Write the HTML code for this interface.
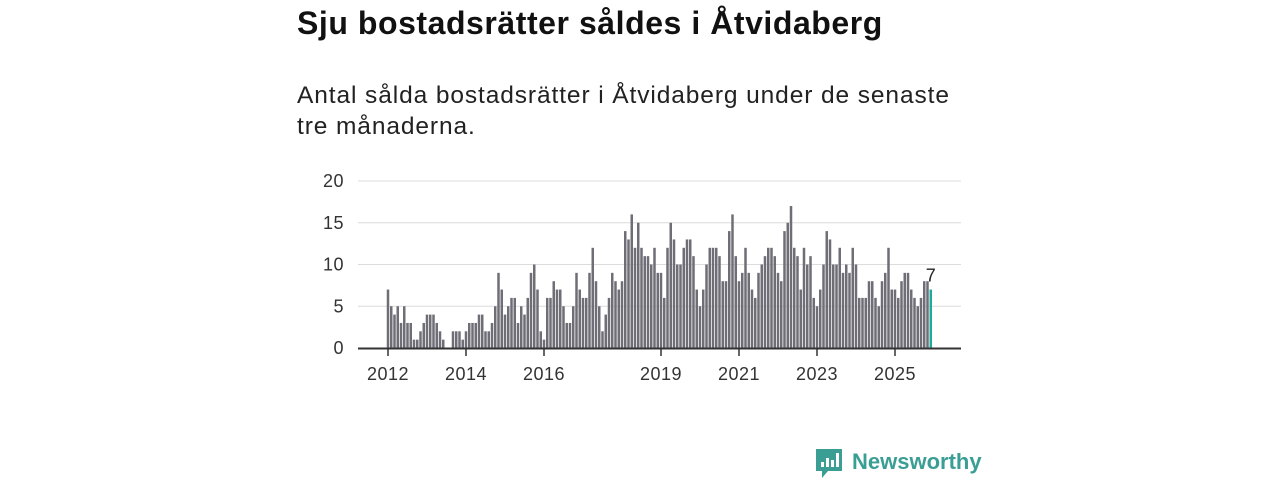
<!DOCTYPE html>
<html><head><meta charset="utf-8">
<style>
body{margin:0;width:1280px;height:480px;background:#fff;overflow:hidden;font-family:"Liberation Sans",sans-serif;}
#title{position:absolute;left:297px;top:5px;font-size:32px;font-weight:bold;color:#111;margin:0;letter-spacing:0.55px}
#sub{position:absolute;left:297px;top:80px;font-size:24.5px;line-height:31px;color:#222;width:680px;margin:0;letter-spacing:0.9px}
svg{position:absolute;left:0;top:0}
</style></head><body>
<h1 id="title">Sju bostadsrätter såldes i Åtvidaberg</h1>
<p id="sub">Antal sålda bostadsrätter i Åtvidaberg under de senaste tre månaderna.</p>
<svg id="chart" width="1280" height="480"></svg>
<script>
const values = [7,5,4,5,3,5,3,3,1,1,2,3,4,4,4,3,2,1,0,0,2,2,2,1,2,3,3,
3,4,4,2,2,3,5,9,7,4,5,6,6,3,5,4,6,9,10,7,2,1,6,6,8,7,7,5,
3,3,5,9,7,6,6,9,12,8,5,2,4,6,9,8,7,8,14,13,16,12,15,12,11,11,10,12,
9,9,6,12,15,13,10,10,12,13,13,11,7,5,7,10,12,12,12,11,8,8,14,16,11,8,9,12,
9,7,6,9,10,11,12,12,11,9,8,14,15,17,12,11,7,12,10,11,6,5,7,10,14,13,10,
10,12,9,10,9,12,10,6,6,6,8,8,6,5,8,9,12,7,7,6,8,9,9,7,6,5,6,8,8,7];
const startYear = 2012;
const yTicks = [0,5,10,15,20];
const xTickYears = [2012,2014,2016,2019,2021,2023,2025];
const NS="http://www.w3.org/2000/svg";
const svg=document.getElementById('chart');
const x0=388, step=3.25, yBase=348, yUnit=(348-181)/20;
function xPos(i){return x0+i*step;}
function yPos(v){return yBase-v*yUnit;}
function mk(t,a){const e=document.createElementNS(NS,t);for(const k in a)e.setAttribute(k,a[k]);svg.appendChild(e);return e;}
yTicks.forEach(t=>{
  if(t>0){const g=mk('line',{x1:358,x2:961,y1:yPos(t),y2:yPos(t),stroke:'#dcdcdc','stroke-width':1});
  
  }
  const l=mk('text',{x:344,y:yPos(t)+6,'text-anchor':'end','font-size':18,'letter-spacing':0.5,fill:'#333','font-family':'Liberation Sans, sans-serif'});
  l.textContent=t;
  
  
});
values.forEach((v,i)=>{
  const last=i===values.length-1;
  const r=mk('rect',{x:xPos(i)-1.25,y:yPos(v),width:2.5,height:v*yUnit,fill:last?'#1faa9c':'#6f6e76'});
  
  
});
const li=values.length-1;
const vl=mk('text',{x:xPos(li),y:yPos(values[li])-8,'text-anchor':'middle','font-size':18,fill:'#222','font-family':'Liberation Sans, sans-serif'});
vl.textContent=values[li];


const ax=mk('line',{x1:358,x2:961,y1:yBase+0.5,y2:yBase+0.5,stroke:'#333','stroke-width':2});


xTickYears.forEach(y=>{
  const xi=xPos((y-startYear)*12);
  const t=mk('line',{x1:xi,x2:xi,y1:yBase,y2:yBase+8,stroke:'#333','stroke-width':1.5});
  
  
  const l=mk('text',{x:xi,y:380,'text-anchor':'middle','font-size':18,'letter-spacing':0.5,fill:'#333','font-family':'Liberation Sans, sans-serif'});
  l.textContent=y;
  
  
});
</script>
<svg width="1280" height="480">
  <path d="M816 449 h26 v22 h-14 l-6 7 v-7 h-6 z" fill="#3a9e94"/>
  <rect x="821" y="462" width="3" height="5" fill="#fff"/>
  <rect x="826" y="458" width="3" height="9" fill="#fff"/>
  <rect x="831" y="460" width="3" height="7" fill="#fff"/>
  <rect x="836" y="453" width="3" height="14" fill="#fff"/>
  <text x="852" y="469" font-size="22" font-weight="bold" fill="#3a9e94" font-family="Liberation Sans, sans-serif">Newsworthy</text>
</svg>
</body></html>
